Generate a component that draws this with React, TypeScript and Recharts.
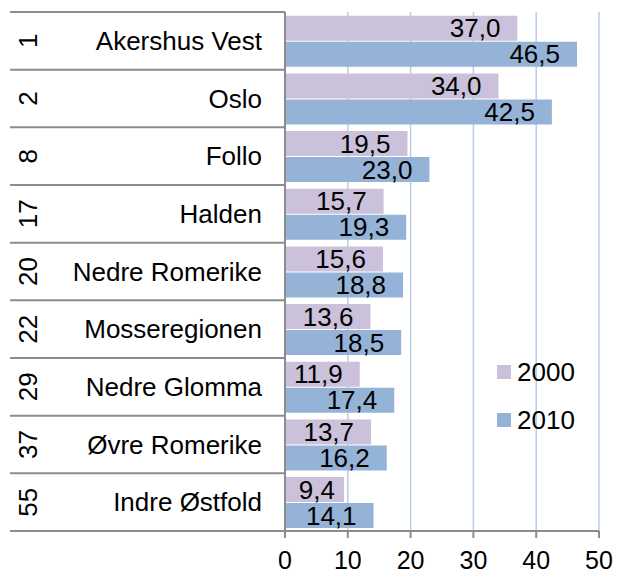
import { Bar, BarChart, CartesianGrid, LabelList, Legend, XAxis, YAxis } from "recharts";

const regions = [
  "Akershus Vest",
  "Oslo",
  "Follo",
  "Halden",
  "Nedre Romerike",
  "Mosseregionen",
  "Nedre Glomma",
  "Øvre Romerike",
  "Indre Østfold",
];
const ranks = [1, 2, 8, 17, 20, 22, 29, 37, 55];
const values2000 = [37.0, 34.0, 19.5, 15.7, 15.6, 13.6, 11.9, 13.7, 9.4];
const values2010 = [46.5, 42.5, 23.0, 19.3, 18.8, 18.5, 17.4, 16.2, 14.1];
const xTicks = [0, 10, 20, 30, 40, 50];

const data = regions.map((name, i) => ({
  name,
  rank: ranks[i],
  y2000: values2000[i],
  y2010: values2010[i],
}));

const WIDTH = 618;
const HEIGHT = 572;
const MARGIN = { top: 12, right: 19, bottom: 11, left: 0 };
const XAXIS_H = 30;
const YAXIS_W = 285;
const FONT = "'Liberation Sans', Arial, sans-serif";
const AXIS_GREY = "#8c8c8c";

const plotTop = MARGIN.top;
const plotBottom = HEIGHT - MARGIN.bottom - XAXIS_H;
const band = (plotBottom - plotTop) / regions.length;

const fmt = (v: number) => v.toFixed(1).replace(".", ",");

function CategoryTick(props: any) {
  const { y, payload, index } = props;
  const idx = payload?.index ?? index;
  const top = y - band / 2;
  const bottom = y + band / 2;
  return (
    <g>
      <line x1={10} x2={YAXIS_W} y1={top} y2={top} stroke={AXIS_GREY} strokeWidth={2} />
      {idx === regions.length - 1 && (
        <line x1={10} x2={YAXIS_W} y1={bottom} y2={bottom} stroke={AXIS_GREY} strokeWidth={2} />
      )}
      <text
        x={28}
        y={y}
        textAnchor="middle"
        dy="0.355em"
        transform={`rotate(-90, 28, ${y})`}
        fontSize={26}
        fontFamily={FONT}
        fill="#000"
      >
        {ranks[idx]}
      </text>
      <text x={262} y={y} dy="0.355em" textAnchor="end" fontSize={26} fontFamily={FONT} fill="#000">
        {payload.value}
      </text>
    </g>
  );
}

function ValueLabel(props: any) {
  const { x, y, width, height, value } = props;
  const right = Math.max(x + width - 17, x + 50);
  return (
    <text
      x={right}
      y={y + height / 2}
      dy="0.355em"
      textAnchor="end"
      fontSize={26}
      fontFamily={FONT}
      fill="#000"
    >
      {fmt(value)}
    </text>
  );
}

function LegendBox({ payload }: any) {
  return (
    <div style={{ fontFamily: FONT, fontSize: 26, color: "#000" }}>
      {(payload ?? []).map((e: any) => (
        <div key={e.value} style={{ display: "flex", alignItems: "center", height: 48 }}>
          <span style={{ width: 14, height: 14, background: e.color, marginRight: 6 }} />
          <span>{e.value}</span>
        </div>
      ))}
    </div>
  );
}

export default function App() {
  return (
    <div style={{ position: "absolute", left: 0, top: 0, background: "#fff" }}>
      <BarChart
        width={WIDTH}
        height={HEIGHT}
        data={data}
        layout="vertical"
        margin={MARGIN}
        barCategoryGap="6.5%"
        barGap={1}
      >
        <CartesianGrid horizontal={false} stroke="#b9cde5" strokeWidth={1.5} />
        <XAxis
          type="number"
          domain={[0, 50]}
          ticks={xTicks}
          height={XAXIS_H}
          axisLine={{ stroke: AXIS_GREY, strokeWidth: 2 }}
          tickLine={{ stroke: AXIS_GREY, strokeWidth: 2 }}
          tickSize={7}
          tickMargin={13}
          tick={{ fill: "#000", fontSize: 25, fontFamily: FONT }}
        />
        <YAxis
          type="category"
          dataKey="name"
          width={YAXIS_W}
          axisLine={{ stroke: AXIS_GREY, strokeWidth: 2 }}
          tickLine={false}
          interval={0}
          tick={<CategoryTick />}
        />
        <Legend
          layout="horizontal"
          verticalAlign="middle"
          align="center"
          wrapperStyle={{ left: 497, top: 348, width: "auto" }}
          content={<LegendBox />}
        />
        <Bar dataKey="y2000" name="2000" fill="#ccc1da" isAnimationActive={false}>
          <LabelList dataKey="y2000" content={<ValueLabel />} />
        </Bar>
        <Bar dataKey="y2010" name="2010" fill="#95b3d7" isAnimationActive={false}>
          <LabelList dataKey="y2010" content={<ValueLabel />} />
        </Bar>
      </BarChart>
    </div>
  );
}
